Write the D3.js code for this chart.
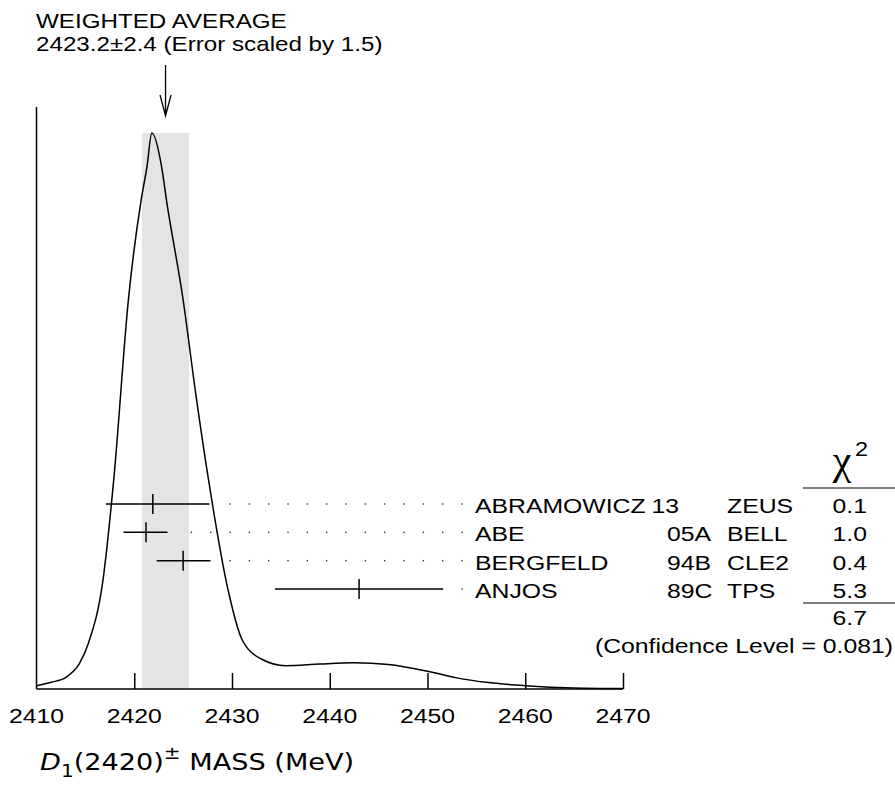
<!DOCTYPE html>
<html lang="en">
<head>
<meta charset="UTF-8">
<title>D1(2420) mass ideogram</title>
<style>
  body { margin: 0; background: #fff; }
  svg { display: block; }
  text { font-family: "Liberation Sans", Arial, sans-serif; fill: #000; }
</style>
</head>
<body>
<svg id="chart" width="895" height="791"></svg>
<script src="https://d3js.org/d3.v7.min.js"></script>
<script>
// ideogram curve (relative height, peak = 1)
const curveMass   = [2410, 2411.5, 2413, 2414.4, 2415.3, 2416.8, 2417.9, 2419.4, 2420.7, 2421.3, 2421.8,
                     2422.8, 2423.3, 2425.0, 2426.3, 2427.6, 2429.6, 2431.0, 2433.0, 2435.5, 2439.0,
                     2442.5, 2446.0, 2450.0, 2453.0, 2456.0, 2460.0, 2465.0, 2470.0];
const curveHeight = [0.006, 0.012, 0.021, 0.046, 0.082, 0.196, 0.376, 0.70, 0.879, 0.939, 1.0,
                     0.939, 0.879, 0.70, 0.53, 0.376, 0.178, 0.09, 0.054, 0.042, 0.045,
                     0.047, 0.044, 0.032, 0.02, 0.012, 0.006, 0.002, 0.001];

// measurements
const names       = ["ABRAMOWICZ", "ABE", "BERGFELD", "ANJOS"];
const years       = ["13", "05A", "94B", "89C"];
const experiments = ["ZEUS", "BELL", "CLE2", "TPS"];
const centers     = [2421.9, 2421.2, 2425.0, 2443.0];
const lows        = [2417.1, 2418.9, 2422.3, 2434.4];
const highs       = [2427.7, 2423.4, 2427.8, 2451.6];
const chi2        = ["0.1", "1.0", "0.4", "5.3"];
const chi2Total   = "6.7";
const confLevel   = "0.081";

// weighted average
const average = 2423.2;
const avgError = 2.4;
const errScale = 1.5;

const xTicks = [2410, 2420, 2430, 2440, 2450, 2460, 2470];

const svg = d3.select("#chart");
const SX = 1.18;       // the original lettering is wider than Arial
const FS = 21;

const x = d3.scaleLinear().domain([2410, 2470]).range([36.5, 623]);
const y = d3.scaleLinear().domain([0, 1]).range([689, 133]);
const rowY = d3.scalePoint().domain(names).range([504, 589]);

function label(g, px, py, str, anchor, size) {
    return g.append("text")
        .attr("transform", `translate(${px},${py}) scale(${SX},1)`)
        .attr("text-anchor", anchor || "start")
        .style("font-size", (size || FS) + "px")
        .text(str);
}

// weighted average band
svg.append("rect")
    .attr("x", x(average - avgError))
    .attr("width", x(average + avgError) - x(average - avgError))
    .attr("y", y(1))
    .attr("height", y(0) - y(1))
    .attr("fill", "#e4e4e4");

// ideogram
const line = d3.line()
    .x((d, i) => x(curveMass[i]))
    .y(d => y(d))
    .curve(d3.curveMonotoneX);
svg.append("path")
    .attr("d", line(curveHeight))
    .attr("fill", "none")
    .attr("stroke", "#000")
    .attr("stroke-width", 1.5);

// axes
svg.append("line")
    .attr("x1", x(2410)).attr("x2", x(2410))
    .attr("y1", 107).attr("y2", y(0))
    .attr("stroke", "#000").attr("stroke-width", 1.5);

const xAxis = svg.append("g")
    .attr("transform", `translate(0,${y(0)})`)
    .call(d3.axisTop(x).tickValues(xTicks.slice(1)).tickSize(16).tickFormat(""));
xAxis.select(".domain").attr("d", `M${x(2410)},0H${x(2470)}`).attr("stroke-width", 1.5);
xAxis.selectAll(".tick line").attr("stroke-width", 1.5);

xTicks.forEach(t => label(svg, x(t), 723, t, "middle", 21));

// title
const title = svg.append("text")
    .attr("transform", `translate(40,770) scale(${SX},1)`)
    .style("font-family", "'DejaVu Sans', sans-serif")
    .style("font-size", "23px");
title.append("tspan").style("font-style", "italic").text("D");
title.append("tspan").attr("dy", 7).style("font-size", "17px").text("1");
title.append("tspan").attr("dy", -7).text("(2420)");
title.append("tspan").attr("dy", -11).style("font-size", "17px").text("±");
title.append("tspan").attr("dy", 11).text(" MASS (MeV)");

// average arrow and caption
const ax = x(average);
svg.append("path")
    .attr("d", `M${ax},65V116M${ax - 5.5},95L${ax},116L${ax + 5.5},95`)
    .attr("fill", "none").attr("stroke", "#000").attr("stroke-width", 1.3);
label(svg, 36, 28, "WEIGHTED AVERAGE", "start", 20.5);
label(svg, 36, 51, `${average.toFixed(1)}±${avgError} (Error scaled by ${errScale})`, "start", 20.5);

// measurements
const nameX = 475, yearX = 667, expX = 727, chiX = 867, dotStep = 19.33;
const nameField = 10;  // names this long run straight into the year
names.forEach((n, i) => {
    const yy = rowY(n);
    const g = svg.append("g");
    g.append("line")
        .attr("x1", x(lows[i])).attr("x2", x(highs[i]))
        .attr("y1", yy).attr("y2", yy)
        .attr("stroke", "#000").attr("stroke-width", 1.5);
    g.append("line")
        .attr("x1", x(centers[i])).attr("x2", x(centers[i]))
        .attr("y1", yy - 10).attr("y2", yy + 10)
        .attr("stroke", "#000").attr("stroke-width", 1.5);

    // leader dots
    const lastDot = nameX - 13;
    for (let dx = lastDot; dx >= x(highs[i]) + 12; dx -= dotStep) {
        g.append("rect").attr("x", dx - 0.7).attr("y", yy - 0.7)
            .attr("width", 1.4).attr("height", 1.4).attr("fill", "#333");
    }

    const ty = yy + 9;
    const nm = label(g, nameX, ty, n);
    const nameEnd = nameX + nm.node().getBBox().width * SX;
    label(g, n.length >= nameField ? nameEnd + 6 : yearX, ty, years[i]);
    label(g, expX, ty, experiments[i]);
    label(g, chiX, ty, chi2[i], "end");
});

// chi-square column
svg.append("text")
    .attr("x", 842).attr("y", 474)
    .attr("text-anchor", "middle")
    .style("font-family", "'Liberation Serif', serif")
    .style("font-size", "42px")
    .text("χ");
label(svg, 855, 456, "2", "start", 20);
svg.append("line").attr("x1", 803).attr("x2", 895).attr("y1", 488).attr("y2", 488)
    .attr("stroke", "#000").attr("stroke-width", 1.2);
svg.append("line").attr("x1", 803).attr("x2", 895).attr("y1", 603).attr("y2", 603)
    .attr("stroke", "#000").attr("stroke-width", 1.2);
label(svg, chiX, 625, chi2Total, "end");
label(svg, 893, 653, `(Confidence Level = ${confLevel})`, "end");
</script>
</body>
</html>
